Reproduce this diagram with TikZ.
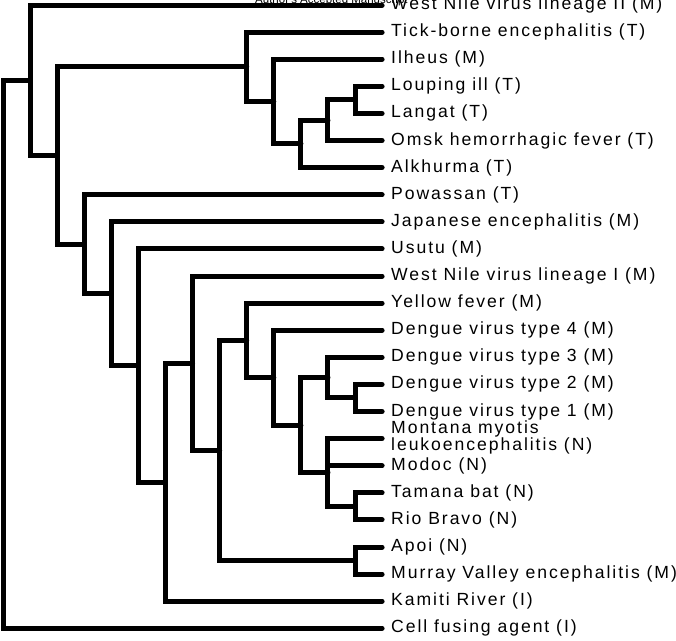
\documentclass[tikz,border=0pt]{standalone}
\usepackage{fontspec}
\newfontfamily\labfont[LetterSpace=11]{Liberation Sans}
\newfontfamily\wmfont{Liberation Sans}
\begin{document}
\begin{tikzpicture}[x=1pt,y=-1pt,
  br/.style={line width=5pt, line join=miter, line cap=round},
  lab/.style={anchor=base west, inner sep=0pt, font=\labfont\fontsize{17.6}{15.3}\selectfont},
  wm/.style={anchor=base west, inner sep=0pt, font=\wmfont\fontsize{11.5}{12}\selectfont}]
\useasboundingbox (0,0) rectangle (676,640);
% leaf tips
\coordinate (tWNVII) at (382.1,5);
\coordinate (tTBE) at (382.1,32.1);
\coordinate (tIlh) at (382.1,59.2);
\coordinate (tLou) at (382.1,86.3);
\coordinate (tLan) at (382.1,113.4);
\coordinate (tOms) at (382.1,140.5);
\coordinate (tAlk) at (382.1,167.6);
\coordinate (tPow) at (382.1,194.7);
\coordinate (tJE) at (382.1,221.8);
\coordinate (tUsu) at (382.1,248.9);
\coordinate (tWNVI) at (382.1,276);
\coordinate (tYF) at (382.1,303.1);
\coordinate (tD4) at (382.1,330.2);
\coordinate (tD3) at (382.1,357.3);
\coordinate (tD2) at (382.1,384.4);
\coordinate (tD1) at (382.1,411.5);
\coordinate (tMon) at (382.1,438.6);
\coordinate (tMod) at (382.1,465.7);
\coordinate (tTam) at (382.1,492.8);
\coordinate (tRio) at (382.1,519.9);
\coordinate (tApo) at (382.1,547);
\coordinate (tMVE) at (382.1,574.1);
\coordinate (tKam) at (382.1,601.2);
\coordinate (tCFA) at (382.1,628.3);
% internal nodes
\coordinate (root) at (3,354.3);
\coordinate (A) at (30.08,80.25);
\coordinate (B) at (57.16,155.5);
\coordinate (C) at (246.72,66.82);
\coordinate (D) at (273.8,101.54);
\coordinate (E) at (300.88,143.89);
\coordinate (F) at (327.96,120.18);
\coordinate (G) at (355.04,99.85);
\coordinate (H) at (84.24,244.19);
\coordinate (I) at (111.32,293.68);
\coordinate (J) at (138.4,365.55);
\coordinate (K) at (165.48,482.2);
\coordinate (L) at (192.56,363.23);
\coordinate (M) at (219.64,450.46);
\coordinate (N) at (355.04,560.55);
\coordinate (O) at (246.72,340.36);
\coordinate (P) at (273.8,377.63);
\coordinate (Q) at (300.88,425.05);
\coordinate (R) at (327.96,377.63);
\coordinate (S) at (355.04,397.95);
\coordinate (T) at (327.96,472.48);
\coordinate (U) at (355.04,506.35);
% watermark
\node[wm] (wmark) at (255,3.5) {Author's Accepted Manuscript};
% branches
\draw[br] (root) |- (A);
\draw[br] (root) |- (tCFA);
\draw[br] (A) |- (tWNVII);
\draw[br] (A) |- (B);
\draw[br] (B) |- (C);
\draw[br] (B) |- (H);
\draw[br] (C) |- (tTBE);
\draw[br] (C) |- (D);
\draw[br] (D) |- (tIlh);
\draw[br] (D) |- (E);
\draw[br] (E) |- (F);
\draw[br] (E) |- (tAlk);
\draw[br] (F) |- (G);
\draw[br] (F) |- (tOms);
\draw[br] (G) |- (tLou);
\draw[br] (G) |- (tLan);
\draw[br] (H) |- (tPow);
\draw[br] (H) |- (I);
\draw[br] (I) |- (tJE);
\draw[br] (I) |- (J);
\draw[br] (J) |- (tUsu);
\draw[br] (J) |- (K);
\draw[br] (K) |- (L);
\draw[br] (K) |- (tKam);
\draw[br] (L) |- (tWNVI);
\draw[br] (L) |- (M);
\draw[br] (M) |- (O);
\draw[br] (M) |- (N);
\draw[br] (N) |- (tApo);
\draw[br] (N) |- (tMVE);
\draw[br] (O) |- (tYF);
\draw[br] (O) |- (P);
\draw[br] (P) |- (tD4);
\draw[br] (P) |- (Q);
\draw[br] (Q) |- (R);
\draw[br] (Q) |- (T);
\draw[br] (R) |- (tD3);
\draw[br] (R) |- (S);
\draw[br] (S) |- (tD2);
\draw[br] (S) |- (tD1);
\draw[br] (T) |- (tMon);
\draw[br] (T) |- (tMod);
\draw[br] (T) |- (U);
\draw[br] (U) |- (tTam);
\draw[br] (U) |- (tRio);
% labels
\node[lab] (lWNVII) at (391,9.5) {West Nile virus lineage II (M)};
\node[lab] (lTBE) at (391,36.6) {Tick-borne encephalitis (T)};
\node[lab] (lIlh) at (391,63.7) {Ilheus (M)};
\node[lab] (lLou) at (391,90.8) {Louping ill (T)};
\node[lab] (lLan) at (391,117.9) {Langat (T)};
\node[lab] (lOms) at (391,145) {Omsk hemorrhagic fever (T)};
\node[lab] (lAlk) at (391,172.1) {Alkhurma (T)};
\node[lab] (lPow) at (391,199.2) {Powassan (T)};
\node[lab] (lJE) at (391,226.3) {Japanese encephalitis (M)};
\node[lab] (lUsu) at (391,253.4) {Usutu (M)};
\node[lab] (lWNVI) at (391,280.5) {West Nile virus lineage I (M)};
\node[lab] (lYF) at (391,307.6) {Yellow fever (M)};
\node[lab] (lD4) at (391,334.7) {Dengue virus type 4 (M)};
\node[lab] (lD3) at (391,361.8) {Dengue virus type 3 (M)};
\node[lab] (lD2) at (391,388.9) {Dengue virus type 2 (M)};
\node[lab] (lD1) at (391,416) {Dengue virus type 1 (M)};
\node[lab] (lMon) at (391,433.5) {\begin{tabular}[t]{@{}l@{}}Montana myotis\\leukoencephalitis (N)\end{tabular}};
\node[lab] (lMod) at (391,470.2) {Modoc (N)};
\node[lab] (lTam) at (391,497.3) {Tamana bat (N)};
\node[lab] (lRio) at (391,524.4) {Rio Bravo (N)};
\node[lab] (lApo) at (391,551.5) {Apoi (N)};
\node[lab] (lMVE) at (391,578.6) {Murray Valley encephalitis (M)};
\node[lab] (lKam) at (391,605.7) {Kamiti River (I)};
\node[lab] (lCFA) at (391,632.8) {Cell fusing agent (I)};
\end{tikzpicture}
\end{document}
